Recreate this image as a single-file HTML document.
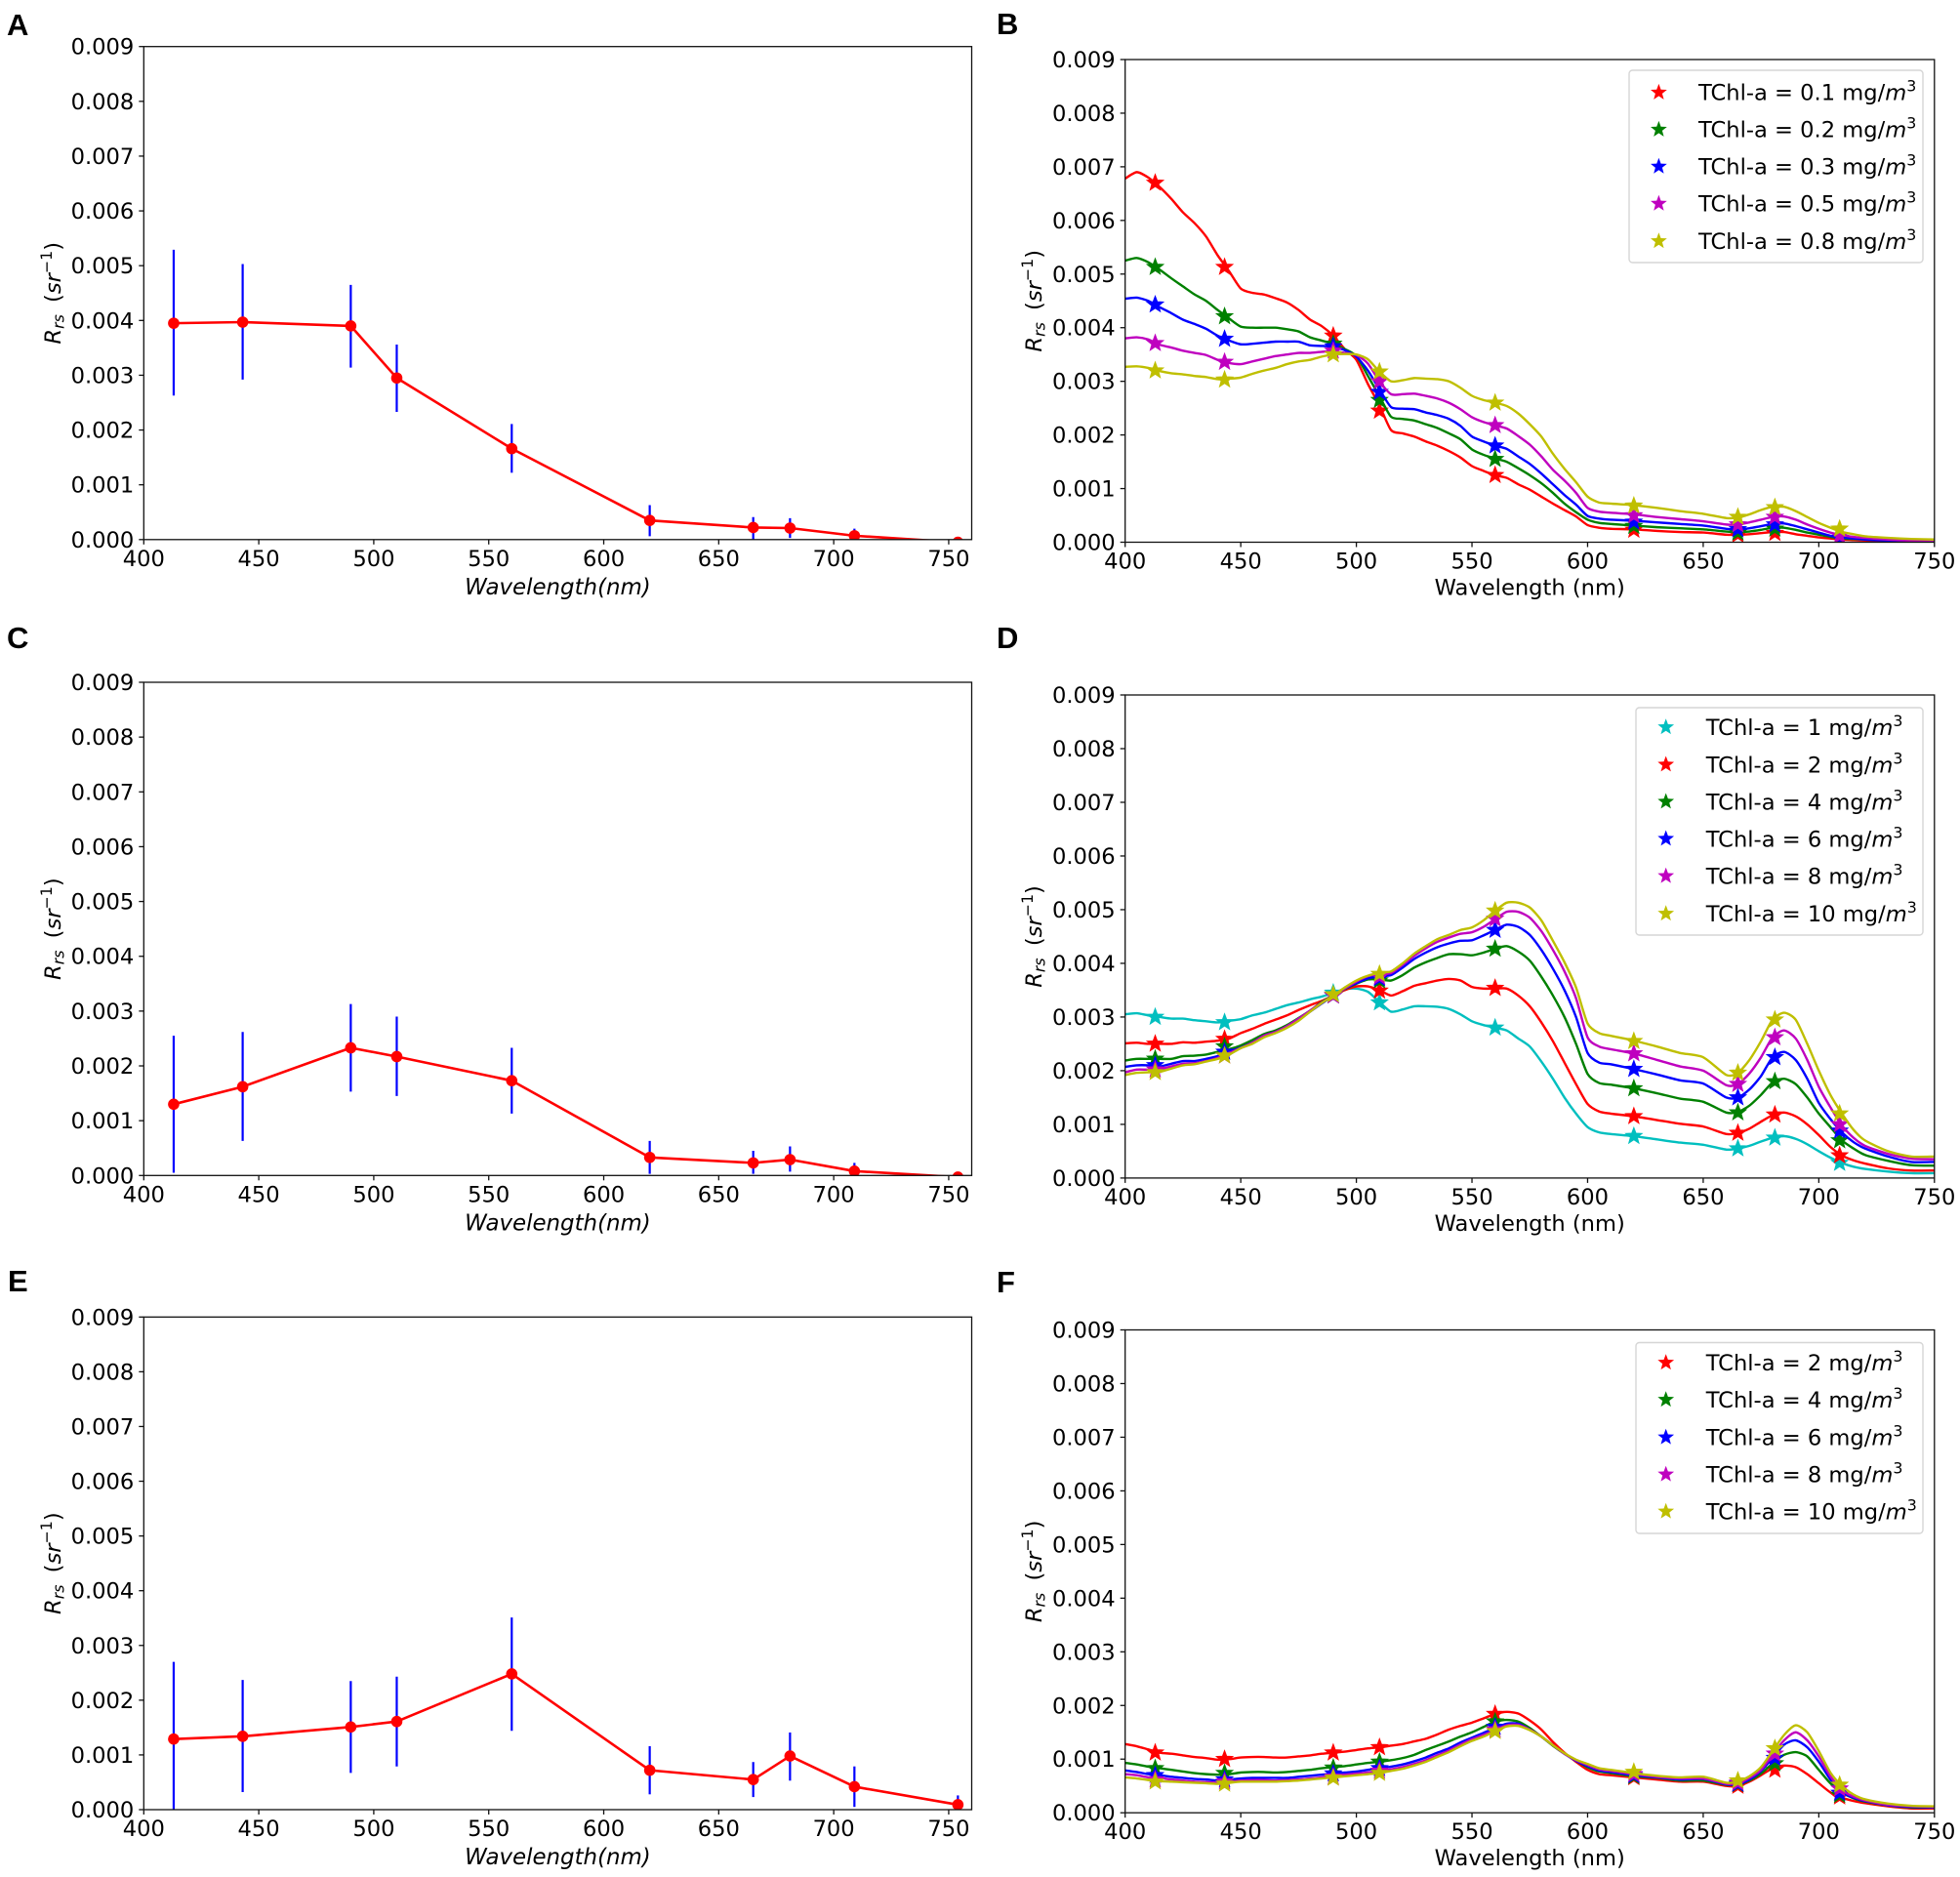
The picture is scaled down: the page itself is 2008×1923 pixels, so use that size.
<!DOCTYPE html>
<html lang="en">
<head>
<meta charset="utf-8">
<title>Rrs spectra panels A to F</title>
<style>
html,body{margin:0;padding:0;background:#fff;}
svg{display:block;}
text{font-family:"DejaVu Sans","Liberation Sans",sans-serif;fill:#000;}
</style>
</head>
<body>
<svg id="figure" xmlns="http://www.w3.org/2000/svg" width="2008" height="1923" viewBox="0 0 2008 1923"></svg>
<script>
// Axis tick labels
const xTickValues = [400, 450, 500, 550, 600, 650, 700, 750];
const yTickValues = [0, 1, 2, 3, 4, 5, 6, 7, 8, 9];
const yTickLabels = ['0.000', '0.001', '0.002', '0.003', '0.004', '0.005', '0.006', '0.007', '0.008', '0.009'];

// Satellite bands (nm) for panels A, C, E and the star markers
const bands = [413, 443, 490, 510, 560, 620, 665, 681, 709, 754];
const starBands = [413, 443, 490, 510, 560, 620, 665, 681, 709];

// Values below are in units of 0.001 sr^-1
const meanA = [3.95, 3.97, 3.9, 2.95, 1.66, 0.35, 0.22, 0.21, 0.07, -0.05];
const lowA = [2.63, 2.92, 3.14, 2.33, 1.22, 0.06, -0.02, 0.03, -0.05, -0.1];
const highA = [5.29, 5.03, 4.65, 3.56, 2.11, 0.63, 0.41, 0.39, 0.2, 0.05];

const meanC = [1.3, 1.62, 2.33, 2.17, 1.73, 0.33, 0.23, 0.29, 0.08, -0.03];
const lowC = [0.05, 0.63, 1.53, 1.45, 1.13, 0.03, 0.03, 0.07, -0.05, -0.1];
const highC = [2.55, 2.62, 3.13, 2.9, 2.33, 0.63, 0.45, 0.53, 0.23, 0.03];

const meanE = [1.29, 1.34, 1.51, 1.61, 2.48, 0.72, 0.55, 0.98, 0.42, 0.09];
const lowE = [-0.1, 0.32, 0.67, 0.79, 1.44, 0.28, 0.23, 0.53, 0.05, -0.05];
const highE = [2.7, 2.37, 2.35, 2.43, 3.51, 1.16, 0.87, 1.41, 0.79, 0.26];

// Shared wavelength sampling for the modelled spectra
const spectrumWavelengths = [
  400,405,410,415,420,425,430,435,440,445,
  450,455,460,465,470,475,480,485,490,495,
  500,505,510,515,520,525,530,535,540,545,
  550,555,560,565,570,575,580,585,590,595,
  600,605,610,620,630,640,650,660,
  665,670,675,680,685,690,695,700,705,710,715,720,
  730,740,750];

// Panel B spectra
const lineB01 = [
  6.78,6.9,6.8,6.62,6.4,6.15,5.95,5.7,5.35,5.05,
  4.73,4.65,4.62,4.55,4.47,4.33,4.15,4.03,3.85,3.6,
  3.4,2.95,2.55,2.09,2.03,1.97,1.88,1.8,1.7,1.58,
  1.42,1.33,1.25,1.2,1.08,.98,.85,.72,.6,.48,
  .32,.27,.25,.24,.21,.19,.18,.14,
  .14,.15,.17,.19,.19,.15,.12,.09,.07,.05,.04,.03,
  .02,.01,.01];
const lineB02 = [
  5.25,5.3,5.22,5.08,4.92,4.77,4.62,4.5,4.33,4.17,
  4.02,4.0,4.0,4.0,3.97,3.93,3.82,3.76,3.7,3.6,
  3.47,3.1,2.72,2.34,2.3,2.27,2.2,2.13,2.03,1.92,
  1.73,1.63,1.56,1.5,1.38,1.25,1.1,.92,.72,.56,
  .42,.36,.34,.31,.28,.26,.24,.2,
  .19,.2,.23,.27,.27,.23,.18,.14,.1,.07,.06,.05,
  .03,.02,.02];
const lineB03 = [
  4.54,4.56,4.5,4.38,4.27,4.15,4.07,3.98,3.85,3.76,
  3.69,3.7,3.72,3.74,3.74,3.74,3.67,3.66,3.64,3.58,
  3.46,3.2,2.85,2.52,2.49,2.48,2.42,2.37,2.3,2.17,
  1.97,1.88,1.8,1.74,1.6,1.46,1.28,1.08,.88,.7,
  .49,.44,.42,.4,.37,.34,.31,.25,
  .24,.26,.3,.34,.35,.3,.24,.18,.12,.09,.07,.05,
  .03,.02,.02];
const lineB05 = [
  3.8,3.82,3.78,3.68,3.63,3.57,3.53,3.49,3.4,3.34,
  3.32,3.37,3.42,3.47,3.5,3.53,3.53,3.55,3.56,3.53,
  3.49,3.33,3.0,2.76,2.76,2.77,2.73,2.68,2.6,2.48,
  2.33,2.24,2.18,2.12,1.98,1.82,1.6,1.35,1.15,.92,
  .64,.57,.55,.52,.47,.43,.39,.33,
  .33,.37,.42,.47,.48,.42,.33,.25,.18,.13,.1,.08,
  .05,.03,.03];
const lineB08 = [
  3.27,3.28,3.25,3.19,3.15,3.13,3.1,3.08,3.04,3.05,
  3.07,3.14,3.2,3.25,3.32,3.37,3.4,3.46,3.5,3.51,
  3.5,3.41,3.18,3.0,3.02,3.06,3.05,3.04,3.0,2.88,
  2.73,2.65,2.6,2.54,2.4,2.2,1.97,1.65,1.37,1.12,
  .85,.74,.72,.69,.64,.58,.53,.45,
  .46,.52,.6,.66,.66,.58,.47,.36,.27,.19,.15,.11,
  .08,.06,.05];
const starsB01 = [6.7, 5.13, 3.85, 2.45, 1.25, 0.23, 0.14, 0.17, 0.07];
const starsB02 = [5.13, 4.21, 3.7, 2.65, 1.55, 0.3, 0.18, 0.25, 0.08];
const starsB03 = [4.43, 3.79, 3.65, 2.8, 1.8, 0.38, 0.24, 0.33, 0.08];
const starsB05 = [3.71, 3.36, 3.57, 3.0, 2.18, 0.5, 0.33, 0.47, 0.12];
const starsB08 = [3.2, 3.03, 3.5, 3.18, 2.6, 0.68, 0.47, 0.65, 0.25];

// Panel D spectra
const lineD1 = [
  3.05,3.07,3.03,3.0,2.97,2.97,2.94,2.92,2.9,2.93,
  2.96,3.03,3.08,3.15,3.22,3.27,3.33,3.38,3.45,3.52,
  3.53,3.47,3.28,3.1,3.14,3.2,3.2,3.19,3.15,3.05,
  2.92,2.85,2.8,2.75,2.6,2.45,2.17,1.85,1.5,1.2,
  .95,.85,.82,.78,.72,.66,.62,.53,
  .55,.6,.68,.75,.78,.73,.63,.5,.38,.28,.21,.17,
  .12,.09,.09];
const lineD2 = [
  2.51,2.52,2.5,2.5,2.5,2.53,2.52,2.54,2.56,2.6,
  2.7,2.78,2.87,2.95,3.03,3.13,3.22,3.3,3.4,3.5,
  3.57,3.57,3.5,3.4,3.48,3.58,3.63,3.68,3.71,3.68,
  3.56,3.53,3.53,3.53,3.4,3.2,2.9,2.55,2.15,1.75,
  1.38,1.24,1.2,1.15,1.08,1.01,.96,.82,
  .84,.92,1.05,1.17,1.22,1.15,1.0,.8,.58,.42,.33,.27,
  .18,.14,.14];
const lineD4 = [
  2.19,2.22,2.22,2.22,2.22,2.27,2.28,2.3,2.35,2.4,
  2.47,2.57,2.68,2.75,2.85,2.98,3.12,3.28,3.4,3.52,
  3.62,3.7,3.7,3.68,3.78,3.92,4.02,4.1,4.17,4.17,
  4.15,4.2,4.27,4.32,4.22,4.05,3.75,3.4,3.0,2.5,
  1.94,1.77,1.74,1.67,1.58,1.48,1.42,1.22,
  1.23,1.35,1.55,1.78,1.85,1.75,1.5,1.2,.95,.7,.55,.43,
  .32,.24,.23];
const lineD6 = [
  2.07,2.1,2.1,2.08,2.13,2.18,2.18,2.22,2.27,2.35,
  2.43,2.52,2.65,2.72,2.82,2.95,3.1,3.25,3.4,3.53,
  3.63,3.72,3.76,3.78,3.92,4.08,4.2,4.3,4.37,4.42,
  4.43,4.52,4.62,4.72,4.68,4.53,4.25,3.9,3.5,3.0,
  2.33,2.15,2.12,2.03,1.93,1.82,1.76,1.5,
  1.5,1.65,1.9,2.25,2.35,2.2,1.85,1.4,1.1,.85,.67,.55,
  .4,.3,.3];
const lineD8 = [
  1.97,2.02,2.02,2.03,2.08,2.13,2.14,2.18,2.24,2.33,
  2.42,2.52,2.65,2.72,2.83,2.97,3.12,3.27,3.4,3.53,
  3.66,3.76,3.8,3.82,3.97,4.14,4.28,4.4,4.48,4.55,
  4.58,4.68,4.82,4.96,4.96,4.85,4.6,4.25,3.85,3.35,
  2.62,2.45,2.4,2.32,2.2,2.08,2.0,1.73,
  1.75,1.95,2.25,2.62,2.75,2.6,2.2,1.7,1.32,.98,.75,.6,
  .45,.36,.35];
const lineD10 = [
  1.92,1.96,1.97,1.98,2.04,2.1,2.12,2.17,2.22,2.3,
  2.42,2.5,2.62,2.7,2.8,2.93,3.1,3.26,3.4,3.55,
  3.68,3.77,3.82,3.85,4.0,4.18,4.32,4.45,4.53,4.62,
  4.67,4.8,4.98,5.13,5.13,5.04,4.8,4.42,4.02,3.55,
  2.88,2.7,2.65,2.56,2.45,2.33,2.25,1.92,
  1.96,2.2,2.55,2.95,3.08,2.95,2.5,2.0,1.55,1.2,.9,.7,
  .5,.4,.4];
const starsD1 = [3.0, 2.9, 3.45, 3.27, 2.8, 0.78, 0.55, 0.75, 0.28];
const starsD2 = [2.5, 2.59, 3.4, 3.49, 3.54, 1.15, 0.84, 1.18, 0.42];
const starsD4 = [2.22, 2.45, 3.4, 3.68, 4.27, 1.67, 1.22, 1.8, 0.7];
const starsD6 = [2.1, 2.35, 3.4, 3.72, 4.62, 2.03, 1.5, 2.25, 0.88];
const starsD8 = [2.02, 2.28, 3.4, 3.75, 4.83, 2.32, 1.75, 2.62, 1.0];
const starsD10 = [1.97, 2.28, 3.42, 3.8, 4.98, 2.55, 1.96, 2.95, 1.2];

// Panel F spectra
const lineF2 = [
  1.28,1.24,1.18,1.12,1.1,1.07,1.04,1.02,.99,1.0,
  1.03,1.04,1.04,1.03,1.03,1.05,1.07,1.1,1.12,1.14,
  1.17,1.2,1.22,1.25,1.28,1.33,1.38,1.46,1.55,1.62,
  1.68,1.76,1.84,1.88,1.85,1.72,1.55,1.32,1.12,.95,
  .8,.72,.7,.66,.62,.58,.58,.5,
  .5,.58,.7,.83,.88,.85,.72,.55,.38,.28,.22,.18,
  .12,.08,.08];
const lineF4 = [
  .93,.9,.86,.83,.8,.77,.74,.72,.71,.72,
  .75,.76,.76,.75,.76,.78,.8,.83,.85,.87,
  .9,.93,.95,.98,1.02,1.08,1.17,1.25,1.33,1.42,
  1.5,1.6,1.7,1.73,1.7,1.58,1.42,1.25,1.1,.97,
  .85,.77,.74,.68,.65,.6,.6,.52,
  .53,.6,.73,.92,1.08,1.13,1.05,.8,.55,.38,.27,.21,
  .14,.1,.1];
const lineF6 = [
  .79,.76,.72,.7,.67,.65,.63,.62,.6,.62,
  .64,.65,.65,.65,.65,.67,.69,.71,.73,.75,
  .77,.8,.83,.86,.9,.96,1.03,1.12,1.2,1.31,
  1.4,1.49,1.58,1.66,1.66,1.55,1.42,1.26,1.1,.97,
  .87,.79,.76,.7,.66,.62,.63,.53,
  .53,.62,.78,1.02,1.27,1.35,1.22,.95,.62,.38,.28,.22,
  .14,.11,.1];
const lineF8 = [
  .72,.7,.66,.65,.62,.6,.58,.57,.56,.58,
  .6,.61,.61,.6,.61,.62,.64,.66,.69,.71,
  .73,.75,.78,.81,.85,.91,.98,1.07,1.16,1.27,
  1.37,1.45,1.54,1.63,1.64,1.55,1.42,1.26,1.1,.98,
  .89,.81,.78,.72,.67,.64,.64,.54,
  .55,.65,.8,1.08,1.35,1.5,1.35,1.05,.68,.42,.3,.23,
  .15,.12,.11];
const lineF10 = [
  .66,.64,.61,.59,.58,.57,.56,.55,.54,.56,
  .58,.58,.58,.58,.59,.6,.62,.64,.66,.68,
  .7,.72,.74,.78,.82,.88,.95,1.04,1.13,1.24,
  1.34,1.42,1.52,1.61,1.62,1.54,1.42,1.26,1.11,.99,
  .91,.83,.8,.74,.69,.66,.67,.56,
  .58,.68,.85,1.15,1.45,1.63,1.5,1.15,.75,.5,.34,.25,
  .17,.13,.12];
const starsF2 = [1.12, 1.0, 1.12, 1.22, 1.84, 0.66, 0.5, 0.8, 0.3];
const starsF4 = [0.83, 0.74, 0.84, 0.95, 1.7, 0.68, 0.53, 0.92, 0.33];
const starsF6 = [0.7, 0.62, 0.73, 0.83, 1.6, 0.7, 0.54, 1.02, 0.37];
const starsF8 = [0.62, 0.58, 0.67, 0.78, 1.55, 0.72, 0.56, 1.1, 0.45];
const starsF10 = [0.58, 0.54, 0.65, 0.74, 1.52, 0.76, 0.6, 1.2, 0.52];

// Legend labels
const legendLabelsB = ['0.1', '0.2', '0.3', '0.5', '0.8'];
const legendLabelsD = ['1', '2', '4', '6', '8', '10'];
const legendLabelsF = ['2', '4', '6', '8', '10'];

const NS = 'http://www.w3.org/2000/svg';
const FIG = document.getElementById('figure');
const TICK_FONT = 22.6;
const COL = {r:'#ff0000', g:'#008000', b:'#0000ff', m:'#bf00bf', y:'#bfbf00', c:'#00bfbf'};

function el(tag, attrs, parent) {
  const n = document.createElementNS(NS, tag);
  for (const k in attrs) n.setAttribute(k, attrs[k]);
  (parent || FIG).appendChild(n);
  return n;
}
function addSpan(textEl, str, attrs) {
  const s = el('tspan', attrs || {}, textEl);
  s.textContent = str;
  return s;
}
function starPoints(cx, cy, R) {
  const pts = [];
  for (let i = 0; i < 10; i++) {
    const r = i % 2 ? R * 0.42 : R;
    const a = -Math.PI / 2 + i * Math.PI / 5;
    pts.push((cx + r * Math.cos(a)).toFixed(2) + ',' + (cy + r * Math.sin(a)).toFixed(2));
  }
  return pts.join(' ');
}
function smoothPath(p) {
  let d = 'M' + p[0][0].toFixed(2) + ' ' + p[0][1].toFixed(2);
  for (let i = 0; i < p.length - 1; i++) {
    const a = p[Math.max(i - 1, 0)], b = p[i], c = p[i + 1], e = p[Math.min(i + 2, p.length - 1)];
    const k = 0.12;
    d += 'C' + (b[0] + (c[0] - a[0]) * k).toFixed(2) + ' ' + (b[1] + (c[1] - a[1]) * k).toFixed(2) + ' ' +
         (c[0] - (e[0] - b[0]) * k).toFixed(2) + ' ' + (c[1] - (e[1] - b[1]) * k).toFixed(2) + ' ' +
         c[0].toFixed(2) + ' ' + c[1].toFixed(2);
  }
  return d;
}
function makeAxes(id, box, xMax, xLabelItalic) {
  const ax = {
    id: id,
    box: box,
    x: v => box.left + (v - 400) / (xMax - 400) * (box.right - box.left),
    y: v => box.bottom - v / 9 * (box.bottom - box.top)
  };
  const g = el('g', {});
  
  
  ax.g = g;

  const cp = el('clipPath', {id: 'clip-' + id}, g);
  el('rect', {x: box.left, y: box.top, width: box.right - box.left, height: box.bottom - box.top}, cp);

  const plot = el('g', {'clip-path': 'url(#clip-' + id + ')'}, g);
  
  
  ax.plot = plot;

  const xAxis = el('g', {}, g);
  
  
  xTickValues.forEach(v => {
    const px = ax.x(v);
    const tick = el('line', {x1: px, x2: px, y1: box.bottom, y2: box.bottom + 5, stroke: '#111', 'stroke-width': 1.3}, xAxis);
    
    
    const t = el('text', {x: px, y: box.bottom + 27, 'text-anchor': 'middle', 'font-size': TICK_FONT}, xAxis);
    t.textContent = v;
    
    
  });

  const yAxis = el('g', {}, g);
  
  
  yTickValues.forEach((v, i) => {
    const py = ax.y(v);
    const tick = el('line', {x1: box.left - 5, x2: box.left, y1: py, y2: py, stroke: '#111', 'stroke-width': 1.3}, yAxis);
    
    
    const t = el('text', {x: box.left - 10, y: py + 8, 'text-anchor': 'end', 'font-size': TICK_FONT}, yAxis);
    t.textContent = yTickLabels[i];
    
    
  });

  const xt = el('text', {x: (box.left + box.right) / 2, y: box.bottom + (xLabelItalic ? 56 : 54), 'text-anchor': 'middle', 'font-size': xLabelItalic ? 22.9 : TICK_FONT}, g);
  xt.textContent = xLabelItalic ? 'Wavelength(nm)' : 'Wavelength (nm)';
  if (xLabelItalic) xt.setAttribute('font-style', 'italic');
  
  

  const yx = box.left - 85.5;
  const yy = (box.top + box.bottom) / 2;
  const yt = el('text', {x: yx, y: yy, 'text-anchor': 'middle', 'font-size': TICK_FONT, transform: 'rotate(-90 ' + yx + ' ' + yy + ')', 'xml:space': 'preserve'}, g);
  
  
  addSpan(yt, 'R', {'font-style': 'italic'});
  addSpan(yt, 'rs', {'font-style': 'italic', 'font-size': 15.8, dy: 3.5});
  addSpan(yt, ' (', {dy: -3.5, dx: 5});
  addSpan(yt, 'sr', {'font-style': 'italic'});
  addSpan(yt, '\u22121', {'font-size': 15.8, dy: -9});
  addSpan(yt, ')', {dy: 9});

  const frame = el('rect', {x: box.left, y: box.top, width: box.right - box.left, height: box.bottom - box.top, fill: 'none', stroke: '#111', 'stroke-width': 1.3}, g);
  
  
  return ax;
}
function drawErrorPanel(ax, mean, low, high) {
  bands.forEach((b, i) => {
    const bar = el('line', {x1: ax.x(b), x2: ax.x(b), y1: ax.y(low[i]), y2: ax.y(high[i]), stroke: COL.b, 'stroke-width': 2.2}, ax.plot);
    
    
  });
  const pts = bands.map((b, i) => ax.x(b).toFixed(2) + ',' + ax.y(mean[i]).toFixed(2)).join(' ');
  const line = el('polyline', {points: pts, fill: 'none', stroke: COL.r, 'stroke-width': 2.6, 'stroke-linejoin': 'round'}, ax.plot);
  
  
  bands.forEach((b, i) => {
    const dot = el('circle', {cx: ax.x(b), cy: ax.y(mean[i]), r: 5.8, fill: COL.r}, ax.plot);
    
    
  });
}
function drawSpectrum(ax, values, stars, color, name) {
  const s = el('g', {}, ax.plot);
  
  
  const pts = spectrumWavelengths.map((w, i) => [ax.x(w), ax.y(values[i])]);
  const line = el('path', {d: smoothPath(pts), fill: 'none', stroke: color, 'stroke-width': 2.4, 'stroke-linejoin': 'round'}, s);
  
  
  starBands.forEach((b, i) => {
    const st = el('polygon', {points: starPoints(ax.x(b), ax.y(stars[i]), 9), fill: color, stroke: color, 'stroke-width': 0.8}, s);
    
    
  });
}
function drawLegend(ax, box, labels, colors, rowYs, starX, textX) {
  const g = el('g', {}, ax.g);
  
  
  el('rect', {x: box.x, y: box.y, width: box.w, height: box.h, rx: 3.5, fill: '#fff', 'fill-opacity': 0.9, stroke: '#d6d6d6', 'stroke-width': 1.4}, g);
  labels.forEach((lab, i) => {
    const row = el('g', {}, g);
    
    
    el('polygon', {points: starPoints(starX, rowYs[i], 8.8), fill: colors[i]}, row);
    const t = el('text', {x: textX, y: rowYs[i] + 8, 'font-size': TICK_FONT, 'xml:space': 'preserve'}, row);
    addSpan(t, 'TChl-a = ' + lab + ' mg/');
    addSpan(t, 'm', {'font-style': 'italic'});
    addSpan(t, '3', {'font-size': 15.8, dy: -9});
  });
}
function panelLetter(str, x, y) {
  const t = el('text', {x: x, y: y, 'font-size': 31, 'font-weight': 'bold', style: 'font-family:"Liberation Sans",sans-serif'});
  t.textContent = str;
  
  
}

const axA = makeAxes('a', {left: 147.3, right: 995.5, top: 47.7, bottom: 552.8}, 760, true);
drawErrorPanel(axA, meanA, lowA, highA);
const axC = makeAxes('c', {left: 147.3, right: 995.5, top: 699, bottom: 1204.3}, 760, true);
drawErrorPanel(axC, meanC, lowC, highC);
const axE = makeAxes('e', {left: 147.3, right: 995.5, top: 1349.3, bottom: 1854}, 760, true);
drawErrorPanel(axE, meanE, lowE, highE);

const axB = makeAxes('b', {left: 1152.7, right: 1981.8, top: 61, bottom: 555.5}, 750, false);
drawSpectrum(axB, lineB01, starsB01, COL.r, 'series-0.1');
drawSpectrum(axB, lineB02, starsB02, COL.g, 'series-0.2');
drawSpectrum(axB, lineB03, starsB03, COL.b, 'series-0.3');
drawSpectrum(axB, lineB05, starsB05, COL.m, 'series-0.5');
drawSpectrum(axB, lineB08, starsB08, COL.y, 'series-0.8');
drawLegend(axB, {x: 1669, y: 72, w: 301, h: 197}, legendLabelsB, [COL.r, COL.g, COL.b, COL.m, COL.y], [94.7, 132.7, 170.6, 208.6, 247], 1699.4, 1740);

const axD = makeAxes('d', {left: 1152.7, right: 1981.8, top: 712, bottom: 1206.9}, 750, false);
drawSpectrum(axD, lineD1, starsD1, COL.c, 'series-1');
drawSpectrum(axD, lineD2, starsD2, COL.r, 'series-2');
drawSpectrum(axD, lineD4, starsD4, COL.g, 'series-4');
drawSpectrum(axD, lineD6, starsD6, COL.b, 'series-6');
drawSpectrum(axD, lineD8, starsD8, COL.m, 'series-8');
drawSpectrum(axD, lineD10, starsD10, COL.y, 'series-10');
drawLegend(axD, {x: 1676, y: 725, w: 294, h: 233}, legendLabelsD, [COL.c, COL.r, COL.g, COL.b, COL.m, COL.y], [745, 783.3, 821.3, 859.3, 897.5, 936], 1706.7, 1747.7);

const axF = makeAxes('f', {left: 1152.7, right: 1981.8, top: 1362.5, bottom: 1857.2}, 750, false);
drawSpectrum(axF, lineF2, starsF2, COL.r, 'series-2');
drawSpectrum(axF, lineF4, starsF4, COL.g, 'series-4');
drawSpectrum(axF, lineF6, starsF6, COL.b, 'series-6');
drawSpectrum(axF, lineF8, starsF8, COL.m, 'series-8');
drawSpectrum(axF, lineF10, starsF10, COL.y, 'series-10');
drawLegend(axF, {x: 1676, y: 1375.5, w: 294, h: 195.5}, legendLabelsF, [COL.r, COL.g, COL.b, COL.m, COL.y], [1396, 1434, 1472.5, 1510.5, 1548.5], 1706.7, 1747.7);

panelLetter('A', 7, 36);
panelLetter('B', 1021, 35);
panelLetter('C', 7, 664);
panelLetter('D', 1021, 664);
panelLetter('E', 8, 1323);
panelLetter('F', 1021, 1324);
</script>
</body>
</html>
